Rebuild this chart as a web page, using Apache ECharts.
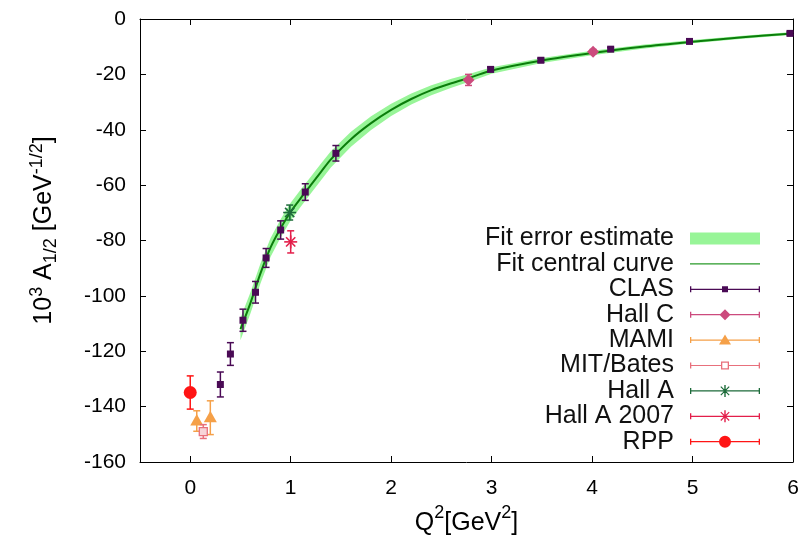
<!DOCTYPE html>
<html>
<head>
<meta charset="utf-8">
<script src="https://cdn.jsdelivr.net/npm/echarts@6/dist/echarts.min.js"></script>
<style>html,body{margin:0;padding:0;background:#fff}#c{width:802px;height:545px}</style>
</head>
<body>
<div id="c"></div>
<script>
// ---- data ----
const fitX   = [0.5,0.6,0.7,0.8,0.9,1.0,1.1,1.2,1.3,1.4,1.6,1.8,2.0,2.2,2.4,2.6,2.8,3.0,3.5,4.0,4.5,5.0,5.5,6.0];
const fitY   = [-112,-102.5,-91.8,-82.5,-75.6,-69.6,-64.7,-60,-55.3,-50.7,-43.4,-37.6,-32.8,-28.9,-25.7,-23.2,-21.0,-18.6,-15.0,-12.3,-10.0,-8.2,-6.6,-5.2];
const fitErr = [4,3.8,3.6,3.4,3.3,3.2,3.1,3.0,3.0,2.9,2.7,2.5,2.2,2.0,1.8,1.6,1.4,1.2,0.9,0.8,0.7,0.6,0.55,0.5];

const clasX   = [0.30,0.40,0.525,0.65,0.755,0.90,1.145,1.45,2.99,3.49,4.185,4.97,5.97];
const clasY   = [-132,-121,-108.8,-98.7,-86.3,-76.2,-62.5,-48.5,-18.2,-14.9,-10.9,-8.1,-5.2];
const clasErr = [4.5,4.1,4,3.9,3.4,3.3,3,2.8,0.8,0.7,0.6,0.5,0.5];

const hallCX = [2.77, 4.01];
const hallCY = [-22.0, -11.8];
const hallCErr = [2, 0.8];

const mamiX = [0.065, 0.2];
const mamiY = [-145.2, -144.0];
const mamiErr = [3.7, 6.1];

const mitX = [0.13];
const mitY = [-149];
const mitErr = [2.5];

const hallAX = [0.99];
const hallAY = [-69.9];
const hallAErr = [2.7];

const hallA07X = [1.0];
const hallA07Y = [-80.5];
const hallA07Err = [4];

const rppX = [0.0];
const rppY = [-134.9];
const rppErr = [6];

const xTicksMin = -0.5, xTicksMax = 6;
const yMin = -160, yMax = 0, yStep = 20;

// ---- build ----
const FONT = 'Liberation Sans, Arial, Helvetica, sans-serif';
function pts(xs, ys, es) { return xs.map((x, i) => es ? [x, ys[i], es[i]] : [x, ys[i]]); }

function marker(shape, cx, cy, color) {
  switch (shape) {
    case 'square': return {type:'rect', shape:{x:cx-3.5,y:cy-3.5,width:7,height:7}, style:{fill:color}};
    case 'diamond': return {type:'polygon', shape:{points:[[cx,cy-6],[cx+6,cy],[cx,cy+6],[cx-6,cy]]}, style:{fill:color}};
    case 'triangle': return {type:'polygon', shape:{points:[[cx,cy-7],[cx+6.5,cy+4.5],[cx-6.5,cy+4.5]]}, style:{fill:color}};
    case 'opensquare': return {type:'rect', shape:{x:cx-4,y:cy-4,width:8,height:8}, style:{fill:'#f7d4d8',stroke:color,lineWidth:1.3}};
    case 'circle': return {type:'circle', shape:{cx:cx,cy:cy,r:6.5}, style:{fill:color}};
    case 'star': {
      const r = 6.5, d = 4.6, ls = {stroke:color, lineWidth:1.6};
      return {type:'group', children:[
        {type:'line', shape:{x1:cx-r,y1:cy,x2:cx+r,y2:cy}, style:ls},
        {type:'line', shape:{x1:cx,y1:cy-r,x2:cx,y2:cy+r}, style:ls},
        {type:'line', shape:{x1:cx-d,y1:cy-d,x2:cx+d,y2:cy+d}, style:ls},
        {type:'line', shape:{x1:cx-d,y1:cy+d,x2:cx+d,y2:cy-d}, style:ls}
      ]};
    }
  }
}

function errSeries(name, xs, ys, es, color, shape) {
  return {
    type: 'custom', name: name, xAxisIndex: 0, yAxisIndex: 0, z: 10,
    itemStyle: {color: color},
    encode: {x: 0, y: 1},
    data: pts(xs, ys, es),
    renderItem: function (params, api) {
      const x = api.value(0), y = api.value(1), e = api.value(2);
      const c = api.coord([x, y]), t = api.coord([x, y + e]), b = api.coord([x, y - e]);
      const cap = 3.5, ls = {stroke: color, lineWidth: 1.5};
      return {type: 'group', children: [
        {type:'line', shape:{x1:c[0],y1:t[1],x2:c[0],y2:b[1]}, style:ls},
        {type:'line', shape:{x1:c[0]-cap,y1:t[1],x2:c[0]+cap,y2:t[1]}, style:ls},
        {type:'line', shape:{x1:c[0]-cap,y1:b[1],x2:c[0]+cap,y2:b[1]}, style:ls},
        marker(shape, c[0], c[1], color)
      ]};
    }
  };
}

// legend icon paths in a 70x12 box
const DOTS = 'M0 0L0.01 0L0 0.01Z M70 12L69.99 12L70 11.99Z ';
const BAR = 'M0 5.4L70 5.4L70 6.6L0 6.6Z ';
const CAPS = 'M0 3L1.3 3L1.3 9L0 9Z M68.7 3L70 3L70 9L68.7 9Z ';
const ICONS = {
  line: 'path://' + DOTS + 'M0 5.3L70 5.3L70 6.7L0 6.7Z',
  square: 'path://' + DOTS + BAR + CAPS + 'M32 3L38 3L38 9L32 9Z',
  diamond: 'path://' + DOTS + BAR + CAPS + 'M35 0.5L40.5 6L35 11.5L29.5 6Z',
  triangle: 'path://' + DOTS + BAR + CAPS + 'M35 0.3L41 10.3L29 10.3Z',
  opensquare: 'path://' + DOTS + CAPS + 'M0 5.4L31 5.4L31 6.6L0 6.6Z M39 5.4L70 5.4L70 6.6L39 6.6Z M31 2L39 2L39 10L31 10Z M32.3 3.3L32.3 8.7L37.7 8.7L37.7 3.3Z',
  star: 'path://' + DOTS + BAR + CAPS + 'M34.3 0L35.7 0L35.7 12L34.3 12Z M31.22 1.38L39.62 9.78L38.78 10.62L30.38 2.22Z M39.62 2.22L31.22 10.62L30.38 9.78L38.78 1.38Z',
  circle: 'path://' + DOTS + BAR + CAPS + 'M29 6A6 6 0 1 1 41 6A6 6 0 1 1 29 6Z'
};

const C = {
  band:'#98f598', line:'#0b7d0b', lineLeg:'#2a9a2a', clas:'#4a0a55', hallC:'#cc4a7d',
  mami:'#f5a048', mit:'#e8707c', hallA:'#1d6b3a', hallA07:'#e31e4a', rpp:'#ff1414'
};

const bandData = fitX.map((x, i) => [x, fitY[i], fitErr[i]]);

const axisCommon = {
  axisLine: {show: true, onZero: false, lineStyle: {color: '#000', width: 1}},
  axisTick: {show: true, inside: true, length: 6, lineStyle: {color: '#000', width: 1}},
  splitLine: {show: false}
};

const option = {
  animation: false,
  backgroundColor: '#fff',
  grid: {left: 140, right: 9, top: 19, bottom: 83, containLabel: false},
  xAxis: [
    Object.assign({type:'value', min:xTicksMin, max:xTicksMax, splitNumber:6, position:'bottom',
      axisLabel:{showMinLabel:false, fontSize:21, color:'#000', margin:16, fontFamily:FONT},
      name:'Q{sup|2}[GeV{sup|2}]', nameLocation:'middle', nameGap:40,
      nameTextStyle:{fontSize:25, color:'#000', fontFamily:FONT, lineHeight:30,
        rich:{sup:{fontSize:18, verticalAlign:'top', lineHeight:30, fontFamily:FONT, color:'#000', padding:[-4,0,0,0]}}}
    }, axisCommon),
    Object.assign({type:'value', min:xTicksMin, max:xTicksMax, splitNumber:6, position:'top',
      axisLabel:{show:false}}, axisCommon)
  ],
  yAxis: [
    Object.assign({type:'value', min:yMin, max:yMax, interval:yStep, position:'left',
      axisLabel:{fontSize:21, color:'#000', margin:14, fontFamily:FONT},
      name:'10{sup|3} A{sub|1/2} [GeV{sup|-1/2}]', nameLocation:'middle', nameGap:80,
      nameTextStyle:{fontSize:25, color:'#000', fontFamily:FONT, lineHeight:32, padding:[0,0,0,20],
        rich:{sup:{fontSize:18, verticalAlign:'top', lineHeight:32, fontFamily:FONT, color:'#000'},
              sub:{fontSize:18, verticalAlign:'bottom', lineHeight:24, fontFamily:FONT, color:'#000'}}}
    }, axisCommon),
    Object.assign({type:'value', min:yMin, max:yMax, interval:yStep, position:'right',
      axisLabel:{show:false}}, axisCommon)
  ],
  legend: {
    orient:'vertical', right:42, top:226, align:'right', padding:0,
    itemWidth:70, itemHeight:12, itemGap:0.4, symbolKeepAspect:true,
    itemStyle:{borderWidth:0},
    textStyle:{fontSize:25, color:'#111', fontFamily:FONT, padding:[0,11,0,0]},
    data: [
      {name:'Fit error estimate', icon:'rect', itemStyle:{color:C.band}},
      {name:'Fit central curve', icon:ICONS.line, itemStyle:{color:C.lineLeg}},
      {name:'CLAS', icon:ICONS.square, itemStyle:{color:C.clas}},
      {name:'Hall C', icon:ICONS.diamond, itemStyle:{color:C.hallC}},
      {name:'MAMI', icon:ICONS.triangle, itemStyle:{color:C.mami}},
      {name:'MIT/Bates', icon:ICONS.opensquare, itemStyle:{color:C.mit}},
      {name:'Hall A', icon:ICONS.star, itemStyle:{color:C.hallA}},
      {name:'Hall A 2007', icon:ICONS.star, itemStyle:{color:C.hallA07}},
      {name:'RPP', icon:ICONS.circle, itemStyle:{color:C.rpp}}
    ]
  },
  series: [
    {type:'custom', name:'Fit error estimate', z:1, silent:true, itemStyle:{color:C.band},
      encode:{x:0, y:1}, data:bandData,
      renderItem: function (params, api) {
        if (params.dataIndex !== 0) return null;
        const upper = [], lower = [];
        for (let i = 0; i < bandData.length; i++) {
          const d = bandData[i];
          upper.push(api.coord([d[0], d[1] + d[2]]));
          lower.push(api.coord([d[0], d[1] - d[2]]));
        }
        return {type:'polygon', shape:{points: upper.concat(lower.reverse())}, style:{fill:C.band}};
      }
    },
    {type:'line', name:'Fit central curve', data:pts(fitX, fitY), showSymbol:false, symbol:'none', smooth:0.3,
      lineStyle:{color:C.line, width:2}, itemStyle:{color:C.lineLeg}, z:2},
    errSeries('CLAS', clasX, clasY, clasErr, C.clas, 'square'),
    errSeries('Hall C', hallCX, hallCY, hallCErr, C.hallC, 'diamond'),
    errSeries('MAMI', mamiX, mamiY, mamiErr, C.mami, 'triangle'),
    errSeries('MIT/Bates', mitX, mitY, mitErr, C.mit, 'opensquare'),
    errSeries('Hall A', hallAX, hallAY, hallAErr, C.hallA, 'star'),
    errSeries('Hall A 2007', hallA07X, hallA07Y, hallA07Err, C.hallA07, 'star'),
    errSeries('RPP', rppX, rppY, rppErr, C.rpp, 'circle')
  ]
};

const chart = echarts.init(document.getElementById('c'), null, {renderer:'canvas'});
chart.setOption(option);
</script>
</body>
</html>
